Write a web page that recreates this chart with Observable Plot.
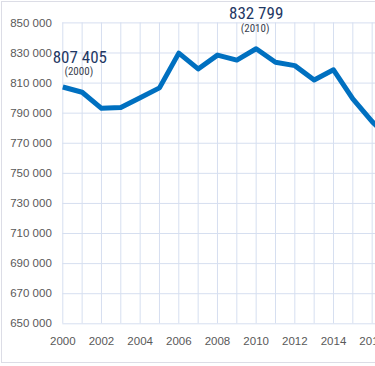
<!DOCTYPE html>
<html>
<head>
<meta charset="utf-8">
<script src="https://cdn.jsdelivr.net/npm/d3@7"></script>
<script src="https://cdn.jsdelivr.net/npm/@observablehq/plot@0.6"></script>
<style>
  html, body { margin: 0; padding: 0; background: #fff; overflow: hidden; width: 375px; height: 366px; }
  #frame { position: absolute; left: 1px; top: 1px; width: 600px; height: 362px; border: 1px solid #dcdde6; box-sizing: border-box; }
  #chart { position: absolute; left: 0; top: 0; width: 391px; }
  #chart svg { max-width: none !important; width: 391px !important; height: 366px !important; }
</style>
</head>
<body>
<div id="frame"></div>
<div id="chart"></div>
<script>
const years = [2000, 2001, 2002, 2003, 2004, 2005, 2006, 2007, 2008, 2009, 2010, 2011, 2012, 2013, 2014, 2015, 2016, 2017];
const values = [807405, 803900, 793200, 793800, 800200, 806800, 829900, 819400, 828600, 825300, 832799, 823800, 821600, 812100, 818800, 799500, 784400, 772000];
const yTicks = [650000, 670000, 690000, 710000, 730000, 750000, 770000, 790000, 810000, 830000, 850000];
const xTicks = [2000, 2002, 2004, 2006, 2008, 2010, 2012, 2014, 2016];
const annotYears = [2000, 2010];

const data = years.map((y, i) => ({year: y, value: values[i]}));
const fmt = v => d3.format(",")(v).replace(/,/g, " ");
const annot = data.filter(d => annotYears.includes(d.year));
const a0 = annot.filter(d => d.year === annotYears[0]);
const a1 = annot.filter(d => d.year === annotYears[1]);

const gridColor = "#d6dff0";
const labelFont = "'Liberation Sans Narrow', 'Arial Narrow', 'Roboto Condensed', 'DejaVu Sans Condensed', sans-serif";

const chart = Plot.plot({
  width: 391,
  height: 366,
  marginLeft: 62.3,
  marginRight: 0,
  marginTop: 22.4,
  marginBottom: 42.7,
  style: {fontFamily: "'Liberation Sans', Arial, sans-serif", fontSize: "11.5px", color: "#595959", background: "transparent", overflow: "visible", maxWidth: "none"},
  x: {domain: [2000, 2017], ticks: xTicks, tickFormat: d => String(d), tickSize: 0, tickPadding: 13, label: null},
  y: {domain: [650000, 850000], ticks: yTicks, tickFormat: fmt, tickSize: 0, tickPadding: 11, label: null},
  marks: [
    Plot.gridX(years, {stroke: gridColor, strokeOpacity: 1, strokeWidth: 1}),
    Plot.gridY(yTicks, {stroke: gridColor, strokeOpacity: 1, strokeWidth: 1}),
    Plot.axisX({ticks: xTicks, tickFormat: d => String(d), tickSize: 0, tickPadding: 13, fill: "#595959"}),
    Plot.axisY({ticks: yTicks, tickFormat: fmt, tickSize: 0, tickPadding: 11, fill: "#595959"}),
    Plot.line(data, {x: "year", y: "value", stroke: "#0070c0", strokeWidth: 5, strokeLinejoin: "round", strokeLinecap: "butt"}),
    Plot.text(a0, {x: "year", y: "value", text: d => fmt(d.value), dx: 17, dy: -29.7, fill: "#1f3864", fontSize: 17, fontFamily: labelFont}),
    Plot.text(a0, {x: "year", y: "value", text: d => "(" + d.year + ")", dx: 16, dy: -15.4, fill: "#3a3f4f", fontSize: 11, fontFamily: labelFont}),
    Plot.text(a1, {x: "year", y: "value", text: d => fmt(d.value), dx: 0, dy: -35.5, fill: "#1f3864", fontSize: 17, fontFamily: labelFont}),
    Plot.text(a1, {x: "year", y: "value", text: d => "(" + d.year + ")", dx: -1, dy: -20.4, fill: "#3a3f4f", fontSize: 11, fontFamily: labelFont})
  ]
});
document.getElementById("chart").appendChild(chart);
</script>
</body>
</html>
